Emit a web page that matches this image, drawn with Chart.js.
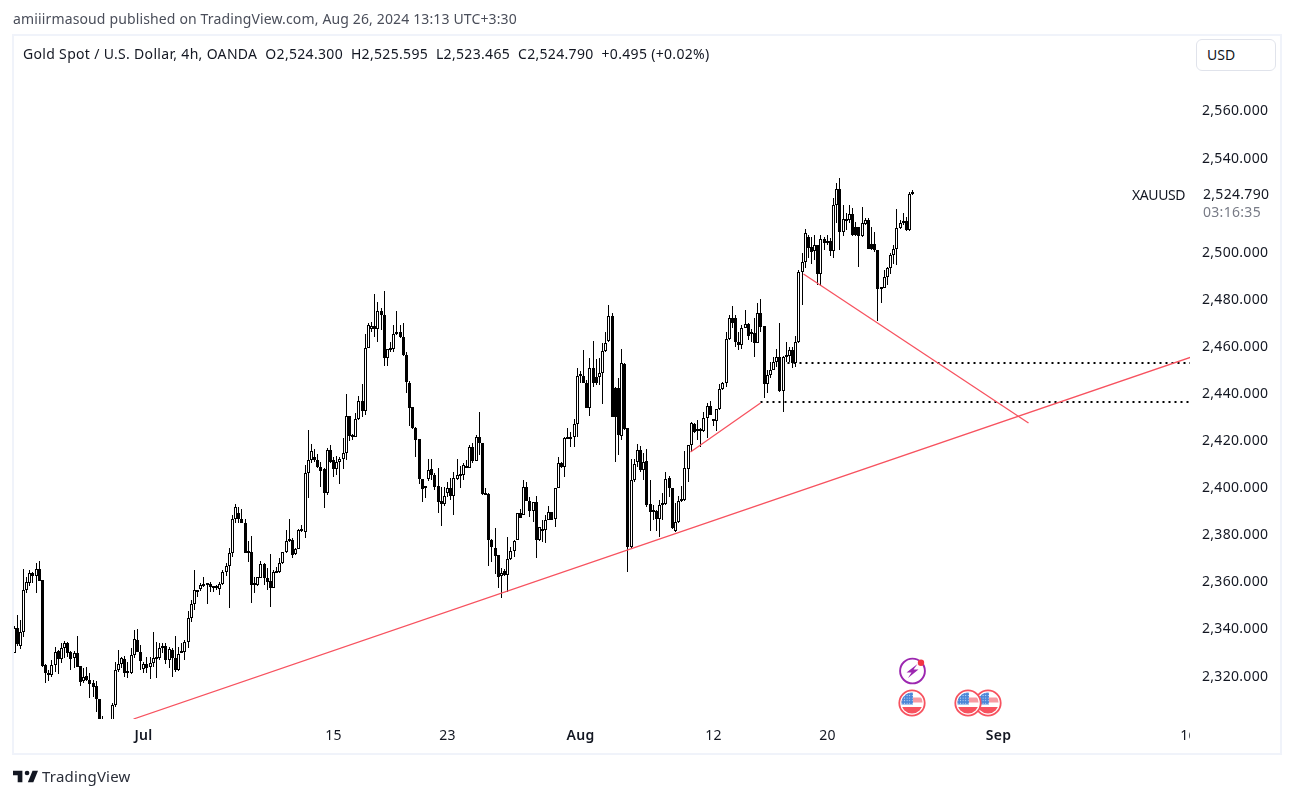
<!DOCTYPE html>
<html>
<head>
<meta charset="utf-8">
<title>XAUUSD 4h</title>
<script src="https://cdn.jsdelivr.net/npm/chart.js@4"></script>
<style>
    html, body { margin: 0; padding: 0; background: #fff; width: 1294px; height: 798px; overflow: hidden; }
    body { font-family: "Noto Sans", sans-serif; color: #131722; position: relative; }
    canvas { position: absolute; left: 0; top: 0; }
    .txt { position: absolute; white-space: pre; line-height: 18px; height: 18px; font-size: 14px; }
    #frame { position: absolute; left: 12px; top: 34px; width: 1270px; height: 721px; box-sizing: border-box; border: 2px solid #f0f3fa; }
    #mask { position: absolute; left: 1190px; top: 725px; width: 60px; height: 25px; background: #fff; }
    #usd { position: absolute; left: 1196px; top: 39px; width: 80px; height: 32px; box-sizing: border-box; border: 1px solid #e0e3eb; border-radius: 6px; background: #fff; }
    svg { position: absolute; }
</style>
</head>
<body>
<div id="frame"></div>
<canvas id="chart" width="1294" height="798"></canvas>
<div id="mask"></div>
<div id="usd"></div>
<div class="txt" style="left:13px;top:10px;color:#4a4e5a;letter-spacing:.14px">amiiirmasoud published on TradingView.com, Aug 26, 2024 13:13 UTC+3:30</div>
<div class="txt" style="left:23px;top:45px;letter-spacing:.32px">Gold Spot / U.S. Dollar, 4h, OANDA  O2,524.300  H2,525.595  L2,523.465  C2,524.790  +0.495 (+0.02%)</div>
<div class="txt" style="left:1207px;top:46px">USD</div>
<div class="txt" style="left:1132px;top:186px;letter-spacing:-.4px">XAUUSD</div>
<div class="txt" style="left:1203px;top:185px;letter-spacing:.3px">2,524.790</div>
<div class="txt" style="left:1203px;top:203px;color:#787b86;letter-spacing:.3px">03:16:35</div>
<div class="txt" style="left:42px;top:767px;font-size:15px;color:#2a2e39;letter-spacing:.2px">TradingView</div>

<svg style="left:13px;top:769px" width="25" height="15" viewBox="2 6 32 15"><path fill="#131722" d="M14 6H2v6h6v9h6V6zm14 15h-7l6-15h7l-6 15zm-8-9a3 3 0 1 0 0-6 3 3 0 0 0 0 6z"/></svg>

<svg style="left:898px;top:657px" width="30" height="30" viewBox="0 0 30 30">
    <circle cx="14.5" cy="14" r="12.4" fill="#fff" stroke="#9c27b0" stroke-width="1.9"/>
    <path fill="#9c27b0" d="M19.5 7 8.5 15.5h5l-3.5 5.5 10.5-8.500h-5z"/>
    <circle cx="23" cy="5.7" r="3.2" fill="#f23645"/>
</svg>
<svg width="0" height="0" style="left:0;top:0">
    <defs>
        <clipPath id="disc"><circle cx="14" cy="14" r="10.6"/></clipPath>
        <pattern id="stars" width="2.6" height="2.6" patternUnits="userSpaceOnUse">
            <rect width="2.6" height="2.6" fill="#4a86d8"/>
            <rect x=".8" y=".8" width="1" height="1" fill="#cfe0f7"/>
        </pattern>
        <g id="flag">
            <circle cx="14" cy="14" r="12.7" fill="#fff" stroke="#f7525f" stroke-width="1.8"/>
            <g clip-path="url(#disc)">
                <rect x="3" y="3" width="22" height="22" fill="#fff"/>
                <rect x="3" y="8.5" width="22" height="5" fill="#f79aa2"/>
                <rect x="3" y="18" width="22" height="7" fill="#f7525f"/>
                <rect x="3" y="3" width="12" height="12.5" fill="url(#stars)"/>
            </g>
        </g>
    </defs>
</svg>
<svg style="left:898px;top:689px" width="28" height="28"><use href="#flag"/></svg>
<svg style="left:974px;top:689px" width="28" height="28"><use href="#flag"/></svg>
<svg style="left:954px;top:689px" width="28" height="28"><use href="#flag"/></svg>

<script>
const opens = [
    2329.0,2339.6,2332.2,2337.9,2355.7,2358.7,2363.2,2362.0,2364.6,2360.1,
    2323.9,2319.8,2319.9,2323.9,2330.0,2326.7,2331.1,2333.2,2329.5,2327.0,
    2329.0,2323.6,2317.1,2319.2,2317.6,2316.2,2315.1,2309.4,2298.0,2293.0,
    2296.0,2300.0,2306.9,2322.0,2324.6,2326.6,2320.8,2320.5,2328.1,2334.5,
    2329.4,2322.5,2324.4,2323.0,2325.0,2326.6,2327.1,2331.1,2332.2,2326.3,
    2330.4,2326.8,2322.0,2329.1,2329.4,2333.6,2343.8,2349.8,2355.7,2356.2,
    2357.7,2358.1,2358.4,2356.9,2357.1,2356.3,2358.3,2363.4,2365.9,2371.4,
    2385.9,2388.6,2385.9,2384.2,2371.7,2372.0,2358.0,2358.0,2361.1,2366.9,
    2360.8,2359.8,2356.9,2363.2,2363.5,2367.2,2371.9,2376.8,2377.1,2371.0,
    2373.3,2381.0,2380.7,2405.4,2411.0,2412.4,2411.0,2408.0,2407.3,2397.2,
    2415.2,2411.0,2407.4,2410.4,2411.4,2413.9,2429.7,2421.2,2420.7,2428.5,
    2436.0,2431.8,2458.5,2466.9,2467.9,2466.9,2474.3,2472.7,2454.6,2458.0,
    2458.1,2464.5,2465.3,2463.2,2455.6,2443.7,2433.6,2424.6,2419.9,2402.9,
    2399.1,2402.9,2407.2,2404.9,2400.1,2393.7,2392.4,2397.0,2399.1,2395.8,
    2403.2,2404.4,2404.6,2407.8,2407.6,2416.8,2410.8,2420.7,2418.2,2396.4,
    2396.7,2377.1,2373.7,2370.6,2361.8,2364.0,2362.1,2368.9,2372.6,2377.1,
    2388.4,2387.7,2399.5,2393.7,2389.6,2393.1,2377.1,2381.1,2381.4,2385.6,
    2388.9,2385.9,2399.1,2410.0,2408.3,2420.2,2420.9,2420.7,2426.4,2446.8,
    2446.8,2443.7,2433.1,2450.0,2446.5,2446.5,2448.2,2457.4,2461.5,2472.3,
    2441.5,2441.5,2421.3,2451.9,2424.6,2374.0,2402.6,2410.4,2415.3,2406.9,
    2410.7,2392.3,2389.2,2389.6,2385.9,2392.0,2392.4,2403.3,2399.1,2380.8,
    2384.6,2393.7,2394.0,2407.1,2417.3,2426.4,2423.3,2423.3,2423.6,2428.8,
    2433.9,2427.7,2427.7,2432.6,2441.1,2443.7,2462.4,2471.3,2471.3,2461.4,
    2459.8,2467.0,2468.7,2465.6,2464.9,2460.9,2473.7,2468.0,2443.4,2447.1,
    2449.3,2452.9,2454.7,2440.4,2455.6,2455.3,2457.8,2452.2,2461.4,2490.8,
    2495.1,2506.0,2501.5,2500.0,2502.3,2490.3,2504.8,2504.3,2504.3,2500.0,
    2519.3,2526.1,2508.1,2512.8,2513.1,2515.6,2509.9,2509.9,2506.3,2511.4,
    2513.1,2502.7,2502.7,2500.3,2483.9,2484.2,2489.0,2492.5,2498.3,2500.6,
    2509.5,2511.9,2512.8,2508.8,2524.3
];
const highs = [
    2340.6,2345.3,2343.1,2364.8,2361.5,2364.4,2363.7,2367.2,2368.2,2360.1,
    2324.3,2321.9,2326.0,2331.8,2330.4,2333.2,2334.2,2333.6,2330.1,2330.0,
    2336.3,2323.6,2322.6,2323.0,2320.8,2317.6,2317.2,2309.6,2302.3,2300.0,
    2300.5,2307.7,2325.1,2330.4,2327.6,2327.8,2325.4,2331.1,2338.9,2339.3,
    2332.5,2325.4,2327.6,2327.6,2337.9,2333.9,2333.2,2333.5,2333.2,2331.8,
    2331.4,2336.3,2331.8,2333.2,2334.6,2347.1,2351.6,2364.4,2355.9,2358.7,
    2361.5,2358.7,2359.4,2357.6,2358.0,2359.4,2364.4,2367.2,2373.6,2387.7,
    2392.4,2391.0,2390.1,2385.9,2376.8,2378.8,2361.3,2361.5,2368.2,2367.2,
    2365.1,2371.0,2364.4,2365.8,2369.6,2372.2,2381.4,2386.0,2377.8,2373.6,
    2381.7,2383.5,2409.0,2423.8,2417.9,2415.6,2413.6,2410.4,2407.6,2416.1,
    2417.5,2412.5,2412.8,2412.5,2420.3,2439.1,2429.7,2422.2,2430.9,2438.4,
    2443.4,2464.5,2469.2,2469.9,2481.6,2478.1,2475.5,2482.9,2458.1,2461.4,
    2468.5,2474.4,2468.5,2469.2,2456.8,2444.7,2433.8,2425.3,2420.0,2403.2,
    2399.9,2411.5,2411.5,2405.4,2407.6,2399.8,2399.8,2401.9,2403.3,2406.2,
    2411.5,2408.7,2409.7,2411.1,2417.5,2418.2,2421.7,2431.5,2418.5,2399.1,
    2397.0,2377.4,2382.1,2370.7,2365.1,2364.7,2378.5,2374.3,2377.1,2388.4,
    2390.1,2402.6,2401.9,2395.5,2393.4,2396.0,2382.8,2385.6,2387.7,2391.7,
    2389.2,2399.1,2412.2,2410.4,2421.0,2424.6,2423.1,2428.4,2450.0,2449.1,
    2457.8,2445.1,2454.3,2461.6,2454.0,2454.3,2460.7,2465.6,2477.0,2473.4,
    2442.0,2445.8,2458.1,2452.2,2424.6,2411.4,2411.4,2417.8,2417.0,2413.9,
    2415.6,2402.6,2392.0,2389.9,2394.1,2396.9,2406.2,2404.3,2399.1,2392.7,
    2395.8,2400.1,2415.1,2417.5,2427.1,2426.7,2428.1,2424.5,2431.6,2435.2,
    2436.3,2428.1,2432.6,2443.2,2444.4,2465.3,2472.7,2476.5,2472.7,2465.6,
    2468.4,2474.8,2469.2,2466.7,2471.3,2477.7,2479.4,2468.0,2449.3,2452.9,
    2455.0,2458.1,2469.2,2455.4,2461.4,2459.3,2459.3,2463.8,2491.8,2499.2,
    2509.1,2506.7,2506.0,2506.7,2502.4,2506.7,2506.0,2506.7,2505.3,2522.3,
    2528.6,2530.8,2519.4,2515.9,2519.4,2518.0,2512.4,2510.2,2518.7,2513.8,
    2513.8,2510.2,2508.1,2500.3,2484.2,2491.8,2492.9,2498.9,2502.4,2517.6,
    2513.1,2516.2,2514.5,2525.1,2525.595
];
const lows = [
    2329.0,2332.1,2330.9,2336.0,2354.5,2357.6,2358.7,2354.7,2359.8,2323.3,
    2316.2,2317.4,2318.8,2321.2,2320.2,2324.7,2326.8,2327.6,2321.9,2322.6,
    2323.3,2315.2,2316.2,2317.2,2310.1,2310.6,2303.9,2296.0,2293.0,2291.0,
    2295.0,2298.0,2306.3,2321.2,2322.6,2319.1,2318.6,2320.3,2326.8,2329.4,
    2321.9,2320.8,2320.5,2318.2,2323.3,2318.6,2326.1,2329.0,2324.4,2322.6,
    2318.8,2321.2,2321.6,2329.0,2326.1,2331.4,2342.4,2347.4,2353.0,2355.6,
    2357.0,2350.1,2355.2,2355.2,2355.9,2353.9,2358.0,2362.0,2348.1,2369.7,
    2384.2,2384.2,2384.2,2371.5,2367.9,2350.5,2354.5,2357.7,2360.8,2358.0,
    2355.9,2348.8,2356.9,2363.0,2363.2,2366.9,2371.5,2376.4,2369.6,2370.7,
    2373.2,2380.7,2378.1,2394.8,2409.7,2410.4,2407.6,2399.8,2390.7,2396.2,
    2409.7,2404.0,2404.7,2400.9,2407.3,2411.1,2419.3,2419.6,2420.7,2428.1,
    2429.2,2430.2,2458.5,2465.6,2463.2,2461.4,2466.3,2451.2,2451.2,2457.1,
    2457.1,2464.2,2462.8,2455.3,2439.7,2425.7,2424.3,2412.5,2400.9,2393.4,
    2394.8,2402.2,2402.6,2398.4,2388.4,2383.1,2391.6,2395.5,2394.1,2387.9,
    2402.6,2399.1,2402.6,2407.6,2407.6,2409.7,2410.7,2413.2,2396.2,2396.4,
    2366.1,2367.9,2362.9,2356.6,2352.6,2361.8,2355.2,2368.6,2370.0,2377.1,
    2386.3,2387.7,2393.8,2387.0,2384.9,2369.3,2376.8,2376.4,2376.0,2385.6,
    2385.6,2382.8,2399.1,2407.6,2403.7,2419.9,2416.8,2416.8,2421.0,2443.7,
    2443.7,2433.1,2430.0,2442.0,2443.0,2443.0,2434.7,2457.1,2461.4,2429.5,
    2410.4,2413.2,2419.6,2423.8,2363.7,2373.6,2401.9,2408.3,2406.2,2402.6,
    2391.3,2380.9,2385.6,2381.1,2378.5,2385.6,2392.0,2395.5,2381.6,2380.7,
    2384.5,2393.4,2393.8,2401.9,2414.6,2422.4,2419.6,2416.5,2423.1,2420.4,
    2430.2,2425.5,2423.6,2432.3,2440.8,2442.0,2462.1,2467.0,2459.2,2457.8,
    2458.1,2467.0,2462.1,2461.4,2455.0,2460.7,2465.6,2437.3,2439.7,2445.8,
    2449.3,2450.5,2440.1,2431.6,2452.9,2452.9,2450.3,2450.8,2461.0,2476.9,
    2492.8,2496.8,2494.4,2496.1,2485.5,2485.0,2500.3,2502.4,2497.8,2497.1,
    2511.6,2500.3,2506.4,2508.8,2511.6,2506.3,2506.3,2493.2,2506.0,2510.9,
    2500.6,2500.3,2499.6,2470.3,2477.9,2484.0,2485.4,2490.1,2494.4,2493.9,
    2509.1,2510.9,2508.4,2508.5,2523.465
];
const closes = [
    2339.6,2332.8,2337.9,2355.7,2359.1,2363.2,2361.8,2364.6,2359.8,2323.7,
    2320.8,2320.0,2323.9,2329.7,2326.7,2331.1,2333.5,2329.3,2326.7,2329.0,
    2323.3,2316.9,2319.1,2317.6,2315.9,2314.8,2309.4,2298.0,2295.0,2299.0,
    2300.0,2306.9,2322.0,2324.6,2326.8,2320.8,2321.0,2328.1,2334.9,2329.4,
    2325.9,2324.3,2322.9,2325.0,2326.8,2327.1,2331.1,2332.2,2326.3,2330.7,
    2326.8,2322.0,2328.5,2329.4,2333.6,2343.8,2349.8,2355.7,2355.0,2357.9,
    2358.0,2358.4,2357.0,2357.1,2356.6,2358.3,2363.4,2365.9,2371.4,2385.9,
    2391.0,2385.9,2384.2,2371.7,2372.0,2357.9,2358.7,2361.3,2366.9,2361.1,
    2359.4,2356.6,2363.5,2364.0,2367.2,2371.9,2376.8,2377.1,2370.6,2373.3,
    2381.4,2381.1,2405.4,2411.0,2414.8,2411.1,2408.0,2406.6,2397.2,2415.2,
    2410.1,2407.4,2410.3,2411.4,2413.9,2429.7,2421.4,2420.7,2428.5,2436.0,
    2431.8,2458.5,2468.3,2467.9,2466.9,2474.3,2472.6,2454.6,2458.1,2458.1,
    2464.5,2465.3,2463.2,2455.6,2444.4,2433.3,2424.6,2419.7,2402.9,2398.9,
    2399.9,2407.0,2404.9,2399.8,2393.4,2392.3,2395.8,2399.1,2395.8,2403.3,
    2404.6,2404.7,2408.8,2408.3,2416.8,2410.8,2421.0,2418.2,2396.7,2396.7,
    2377.1,2374.0,2370.5,2361.5,2363.2,2362.1,2368.9,2372.6,2376.8,2388.4,
    2386.3,2399.5,2393.8,2389.6,2393.4,2377.1,2382.8,2381.6,2385.6,2388.9,
    2385.6,2399.1,2410.0,2408.3,2420.4,2420.7,2419.9,2426.4,2446.8,2447.1,
    2443.7,2433.1,2450.0,2443.7,2443.7,2448.2,2457.4,2461.0,2472.3,2429.5,
    2429.5,2421.7,2452.2,2424.1,2374.0,2402.6,2409.4,2415.3,2406.9,2410.4,
    2392.0,2389.2,2389.6,2385.9,2392.0,2392.7,2402.9,2399.1,2382.1,2384.6,
    2393.7,2394.0,2407.6,2417.3,2426.7,2423.1,2423.6,2423.6,2428.8,2433.9,
    2430.4,2428.0,2432.6,2441.1,2443.7,2462.4,2471.3,2469.4,2461.4,2459.8,
    2467.0,2468.7,2463.9,2464.6,2460.9,2473.7,2467.7,2443.4,2447.1,2449.3,
    2452.9,2454.7,2440.4,2455.0,2455.0,2457.8,2452.2,2461.4,2490.8,2495.1,
    2507.4,2501.3,2499.6,2502.3,2490.3,2504.8,2503.4,2503.4,2500.0,2519.3,
    2526.1,2508.1,2513.3,2513.1,2515.6,2506.5,2506.5,2506.4,2511.6,2513.1,
    2500.9,2500.9,2500.3,2483.6,2484.2,2489.0,2492.5,2498.2,2500.6,2509.5,
    2511.9,2512.8,2508.8,2524.3,2524.79
];

// 2,520 is hidden behind the last price label in the reference
const priceTicks = [2320, 2340, 2360, 2380, 2400, 2420, 2440, 2460, 2480, 2500, 2540, 2560];
const timeSlots = [41, 101, 137, 179, 221, 257, 311, 371];
const timeLabels = ['Jul', '15', '23', 'Aug', '12', '20', 'Sep', '16'];
const monthLabels = ['Jul', 'Aug', 'Sep'];

// drawings on the chart, as [slot, price] pairs
const longTrend = [[37.9, 2301.1], [372.2, 2454.9]];
const fallingTrend = [[249.6, 2490.1], [320.7, 2426.8]];
const shortTrend = [[213.8, 2414.6], [235.9, 2435.2]];
const upperLevel = [[244.5, 2452.4], [371.6, 2452.4]];
const lowerLevel = [[236.0, 2435.9], [371.6, 2435.9]];

const X_MAX = 371.6;
const Y_MIN = 2301.1;
const Y_MAX = 2591.2;
const FONT = '"Noto Sans", sans-serif';

const toPoints = pairs => pairs.map(([x, y]) => ({ x, y }));

// keeps the thin candles on whole pixels so they stay crisp
function snapPixels(scale, snap) {
    if (scale.snapped) return;
    const orig = scale.getPixelForValue;
    scale.getPixelForValue = (v, i) => snap(orig.call(scale, v, i));
    scale.snapped = true;
}

function drawingLine(pairs, color, extra) {
    return Object.assign({
        type: 'line',
        data: toPoints(pairs),
        borderColor: color,
        borderWidth: 1.3,
        pointRadius: 0,
        order: 0
    }, extra);
}

new Chart(document.getElementById('chart').getContext('2d'), {
    type: 'bar',
    data: {
        datasets: [
            drawingLine(longTrend, '#f7525f'),
            drawingLine(fallingTrend, '#f7525f'),
            drawingLine(shortTrend, '#f7525f'),
            drawingLine(upperLevel, '#000', { borderWidth: 2, borderDash: [2, 4] }),
            drawingLine(lowerLevel, '#000', { borderWidth: 2, borderDash: [2, 4] }),
            {
                label: 'body',
                data: opens.map((o, i) => ({ x: i, y: [o, closes[i]] })),
                barThickness: 3,
                grouped: false,
                minBarLength: 2,
                borderWidth: 1,
                borderSkipped: false,
                inflateAmount: 0,
                borderColor: '#000',
                backgroundColor: ctx => closes[ctx.dataIndex] >= opens[ctx.dataIndex] ? '#fff' : '#000',
                order: 1
            },
            {
                label: 'wick',
                data: lows.map((l, i) => ({ x: i, y: [l, highs[i]] })),
                barThickness: 1,
                grouped: false,
                borderWidth: 0,
                inflateAmount: 0,
                backgroundColor: '#000',
                order: 2
            }
        ]
    },
    plugins: [{
        id: 'tickSpacing',
        beforeDraw(chart) { chart.ctx.letterSpacing = '0.3px'; }
    }],
    options: {
        responsive: false,
        animation: false,
        layout: { padding: { left: 14, right: 14, top: 36, bottom: 44 } },
        plugins: { legend: { display: false }, tooltip: { enabled: false } },
        scales: {
            x: {
                type: 'linear',
                offset: false,
                min: 0,
                max: X_MAX,
                grid: { display: false, drawTicks: false },
                border: { display: false },
                afterDataLimits: s => snapPixels(s, p => Math.floor(p) + 0.5),
                afterBuildTicks: s => { s.ticks = timeSlots.map(value => ({ value })); },
                afterFit: s => { s.height = 35; },
                ticks: {
                    autoSkip: false,
                    maxRotation: 0,
                    padding: 9,
                    color: '#131722',
                    font: ctx => ({
                        family: FONT,
                        size: 14,
                        weight: ctx.tick && monthLabels.includes(timeLabels[timeSlots.indexOf(ctx.tick.value)]) ? '600' : '400'
                    }),
                    callback: (v, i) => timeLabels[i]
                }
            },
            y: {
                position: 'right',
                min: Y_MIN,
                max: Y_MAX,
                grid: { display: false, drawTicks: false },
                border: { display: false },
                afterDataLimits: s => snapPixels(s, p => Math.round(p)),
                afterBuildTicks: s => { s.ticks = priceTicks.map(value => ({ value })); },
                afterFit: s => { s.width = 90; },
                ticks: {
                    padding: 12,
                    labelOffset: 2,
                    color: '#131722',
                    font: { family: FONT, size: 14 },
                    callback: v => v.toLocaleString('en-US', { minimumFractionDigits: 3 })
                }
            }
        }
    }
});
</script>
</body>
</html>
